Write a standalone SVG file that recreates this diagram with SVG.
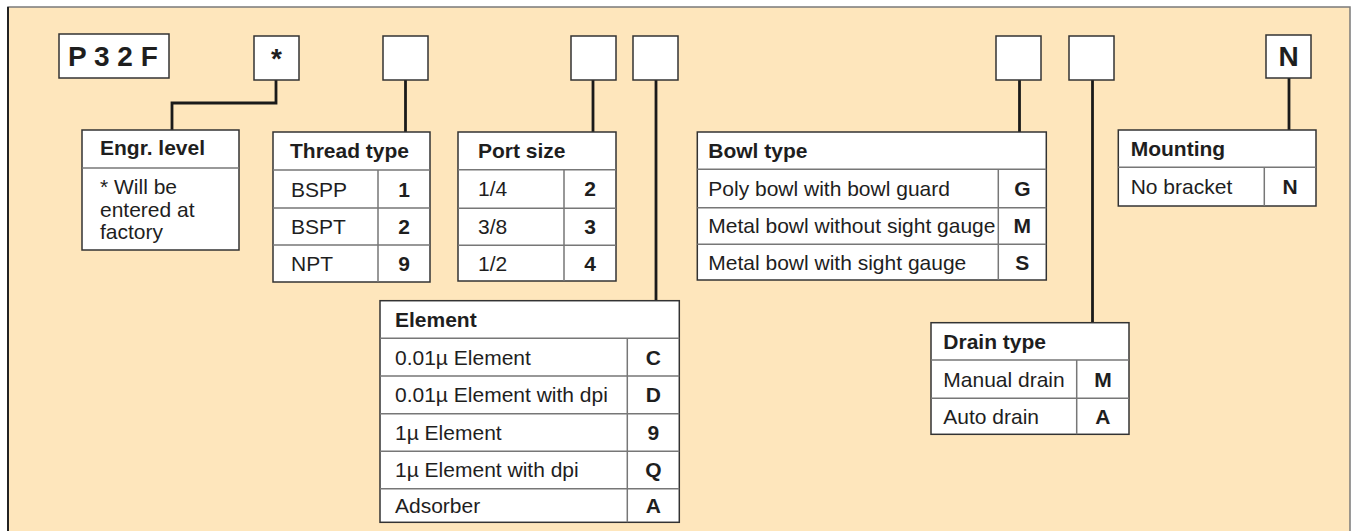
<svg xmlns="http://www.w3.org/2000/svg" width="1351" height="531" viewBox="0 0 1351 531">
<style>
text{font-family:"Liberation Sans",Arial,Helvetica,sans-serif;fill:#1e1e1e;font-size:21px}
.b{font-weight:bold}
.c{text-anchor:middle;font-weight:bold}
.big{font-size:28px;font-weight:bold}
.box{fill:#fff;stroke:#333;stroke-width:1.5}
.ln{stroke:#777;stroke-width:1.5;fill:none}
.con{stroke:#1a1a1a;stroke-width:2.8;fill:none}
</style>
<rect x="8" y="7" width="1342" height="540" fill="#fee6bc" stroke="#7a7a7a" stroke-width="1.5"/>
<line x1="8" y1="7" x2="8" y2="531" stroke="#222" stroke-width="2"/>
<g id="connectors">
<path class="con" d="M276,80 V103 H172 V130"/>
<path class="con" d="M405.5,80 V132"/>
<path class="con" d="M593,80 V132"/>
<path class="con" d="M656,80 V301"/>
<path class="con" d="M1019.5,80 V132"/>
<path class="con" d="M1092.5,80 V323"/>
<path class="con" d="M1289,78 V130"/>
</g>
<g id="code-p32f"><rect class="box" x="59" y="34" width="110" height="44"/><text class="big" x="68" y="66">P 3 2 F</text></g>
<g id="code-engr"><rect class="box" x="254" y="36" width="45" height="44"/><text class="big" x="276.5" y="68" text-anchor="middle">*</text></g>
<g id="code-thread"><rect class="box" x="383" y="36" width="45" height="44"/></g>
<g id="code-port"><rect class="box" x="571" y="36" width="45" height="44"/></g>
<g id="code-element"><rect class="box" x="633" y="36" width="45" height="44"/></g>
<g id="code-bowl"><rect class="box" x="996" y="36" width="45" height="44"/></g>
<g id="code-drain"><rect class="box" x="1069" y="36" width="45" height="44"/></g>
<g id="code-mounting"><rect class="box" x="1266" y="35" width="45" height="43"/><text class="big" x="1288.5" y="66" text-anchor="middle">N</text></g>

<g id="engr-level">
<rect class="box" x="82" y="130" width="157" height="120"/>
<line class="ln" x1="82" y1="168" x2="239" y2="168"/>
<text class="b" x="100" y="155">Engr. level</text>
<text x="100" y="194.3">* Will be</text>
<text x="100" y="216.8">entered at</text>
<text x="100" y="239.3">factory</text>
</g>

<g id="thread-type">
<rect class="box" x="273" y="132" width="157" height="150"/>
<path class="ln" d="M273,170 H430 M273,208 H430 M273,245 H430 M378,170 V282"/>
<text class="b" x="290" y="157.5">Thread type</text>
<text x="291" y="196.5">BSPP</text><text class="c" x="404" y="196.5">1</text>
<text x="291" y="234">BSPT</text><text class="c" x="404" y="234">2</text>
<text x="291" y="271">NPT</text><text class="c" x="404" y="271">9</text>
</g>

<g id="port-size">
<rect class="box" x="458" y="132" width="158" height="149"/>
<path class="ln" d="M458,169.7 H616 M458,208.3 H616 M458,245.3 H616 M564,169.7 V281"/>
<text class="b" x="478" y="158">Port size</text>
<text x="478" y="196.3">1/4</text><text class="c" x="590" y="196.3">2</text>
<text x="478" y="234">3/8</text><text class="c" x="590" y="234">3</text>
<text x="478" y="270.5">1/2</text><text class="c" x="590" y="270.5">4</text>
</g>

<g id="element">
<rect class="box" x="380" y="300.7" width="299.3" height="221.6"/>
<path class="ln" d="M380,338.3 H679.3 M380,376 H679.3 M380,413.7 H679.3 M380,451.3 H679.3 M380,488.7 H679.3 M627.3,338.3 V522.3"/>
<text class="b" x="395" y="327.3">Element</text>
<text x="395" y="364.5">0.01µ Element</text><text class="c" x="653.3" y="364.5">C</text>
<text x="395" y="402.2">0.01µ Element with dpi</text><text class="c" x="653.3" y="402.2">D</text>
<text x="395" y="439.8">1µ Element</text><text class="c" x="653.3" y="439.8">9</text>
<text x="395" y="477.3">1µ Element with dpi</text><text class="c" x="653.3" y="477.3">Q</text>
<text x="395" y="512.8">Adsorber</text><text class="c" x="653.3" y="512.8">A</text>
</g>

<g id="bowl-type">
<rect class="box" x="697.3" y="132" width="349" height="148"/>
<path class="ln" d="M697.3,169.3 H1046.3 M697.3,207.7 H1046.3 M697.3,244.3 H1046.3 M998.3,169.3 V280"/>
<text class="b" x="708.3" y="157.7">Bowl type</text>
<text x="708.3" y="195.8">Poly bowl with bowl guard</text><text class="c" x="1022.3" y="195.8">G</text>
<text x="708.3" y="233.3">Metal bowl without sight gauge</text><text class="c" x="1022.3" y="233.3">M</text>
<text x="708.3" y="269.5">Metal bowl with sight gauge</text><text class="c" x="1022.3" y="269.5">S</text>
</g>

<g id="mounting">
<rect class="box" x="1118.3" y="130" width="197.7" height="76"/>
<path class="ln" d="M1118.3,167.3 H1316 M1264.3,167.3 V206"/>
<text class="b" x="1130.7" y="155.7">Mounting</text>
<text x="1130.7" y="194">No bracket</text><text class="c" x="1290.2" y="194">N</text>
</g>

<g id="drain-type">
<rect class="box" x="931" y="322.7" width="198" height="111.6"/>
<path class="ln" d="M931,360 H1129 M931,398.3 H1129 M1076.7,360 V434.3"/>
<text class="b" x="943.3" y="348.6">Drain type</text>
<text x="943.3" y="386.5">Manual drain</text><text class="c" x="1102.9" y="386.5">M</text>
<text x="943.3" y="423.6">Auto drain</text><text class="c" x="1102.9" y="423.6">A</text>
</g>
</svg>
